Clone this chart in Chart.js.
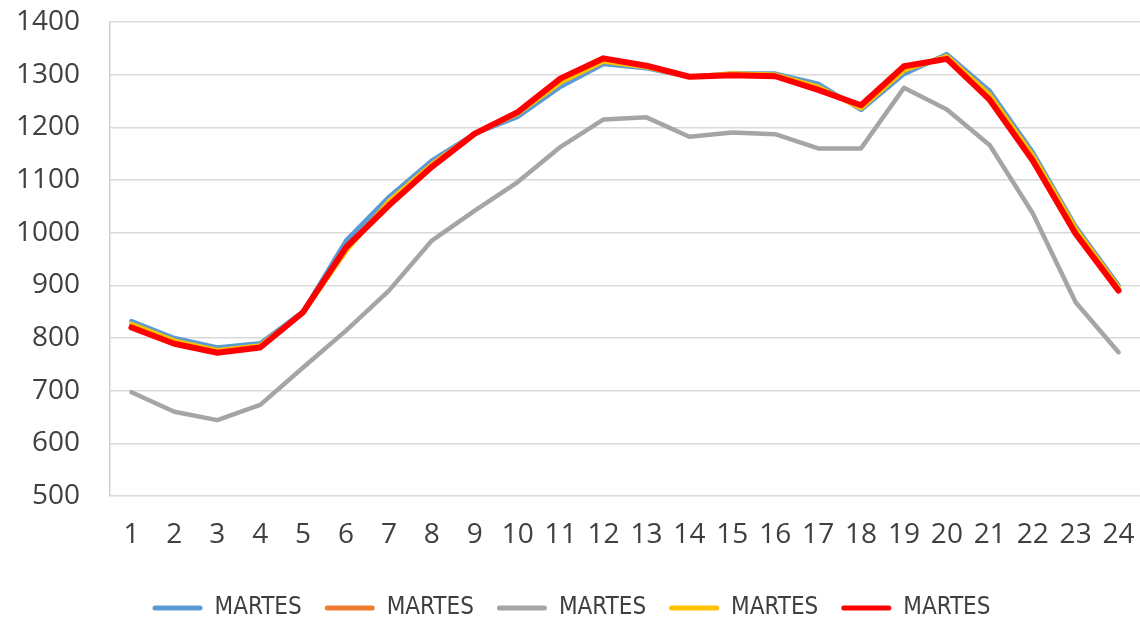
<!DOCTYPE html>
<html>
<head>
<meta charset="utf-8">
<script src="https://cdn.jsdelivr.net/npm/chart.js@4.4.1/dist/chart.umd.min.js"></script>
<style>
  html, body { margin: 0; padding: 0; background: #ffffff; overflow: hidden; }
  #wrap { width: 1140px; height: 620px; }
  canvas { display: block; }
</style>
</head>
<body>
<div id="wrap"><canvas id="c" width="1140" height="620"></canvas></div>
<script>
const hours = ['1','2','3','4','5','6','7','8','9','10','11','12','13','14','15','16','17','18','19','20','21','22','23','24'];
const seriesNames = ['MARTES','MARTES','MARTES','MARTES','MARTES'];
const blueValues   = [832,800,782,790,850,985,1068,1137,1188,1220,1277,1320,1312,1296,1302,1302,1283,1233,1301,1339,1269,1153,1012,900];
const orangeValues = [824,792,774,784,848,968,1056,1128,1188,1228,1290,1328,1316,1296,1300,1298,1274,1238,1312,1332,1256,1142,1003,893];
const grayValues   = [697,660,644,673,744,814,890,985,1042,1096,1163,1215,1219,1182,1190,1187,1160,1160,1275,1234,1166,1037,868,773];
const yellowValues = [827,795,777,786,848,965,1060,1130,1188,1226,1285,1325,1314,1296,1302,1300,1277,1236,1308,1335,1262,1147,1008,896];
const redValues    = [820,789,772,782,849,972,1052,1125,1188,1229,1293,1331,1317,1296,1299,1297,1271,1242,1316,1330,1252,1137,998,890];
const yTicks = [500,600,700,800,900,1000,1100,1200,1300,1400];

const colors = ['#5B9BD5','#ED7D31','#A5A5A5','#FFC000','#FF0000'];
const values = [blueValues, orangeValues, grayValues, yellowValues, redValues];
const widths = [4.5, 4.5, 4.5, 4.5, 6];

const datasets = values.map((v, i) => ({
  label: seriesNames[i],
  data: v,
  borderColor: colors[i],
  backgroundColor: colors[i],
  borderWidth: widths[i],
  pointRadius: 0,
  pointHoverRadius: 0,
  tension: 0,
  borderCapStyle: 'round',
  borderJoinStyle: 'round',
  fill: false,
  order: values.length - i
}));

new Chart(document.getElementById('c'), {
  type: 'line',
  data: { labels: hours, datasets },
  options: {
    responsive: false,
    animation: false,
    layout: { padding: { top: 22, right: -3, bottom: -10, left: 0 } },
    scales: {
      x: {
        offset: true,
        grid: { display: false, drawTicks: false },
        border: { display: false },
        ticks: {
          autoSkip: false, maxRotation: 0, minRotation: 0,
          padding: 0,
          color: '#404040',
          font: { family: '"Open Sans", "Noto Sans", sans-serif', size: 28, lineHeight: 2.8 }
        },
        afterFit: s => { s.height = 77; s.paddingLeft = 0; s.paddingRight = 0; }
      },
      y: {
        min: 500, max: 1400,
        afterBuildTicks: s => { s.ticks = yTicks.map(v => ({ value: v })); },
        grid: { color: '#d9d9d9', lineWidth: 1.5, drawTicks: false },
        border: { display: true, color: '#d0d0d0', width: 1.5 },
        ticks: {
          padding: 30,
          color: '#404040',
          font: { family: '"Open Sans", "Noto Sans", sans-serif', size: 28 },
          callback: v => String(v)
        },
        afterFit: s => { s.width = 110; s.paddingTop = 0; s.paddingBottom = 0; }
      }
    },
    plugins: {
      tooltip: { enabled: false },
      legend: {
        position: 'bottom',
        labels: {
          boxWidth: 50,
          boxHeight: 5,
          padding: 23,
          useBorderRadius: true,
          borderRadius: 2.5,
          color: '#404040',
          font: { family: '"Liberation Sans Narrow", "Arial Narrow", "DejaVu Sans Condensed", sans-serif', size: 24 },
          generateLabels: chart => {
            const items = Chart.defaults.plugins.legend.labels.generateLabels(chart);
            items.forEach(it => { it.lineWidth = 0; it.fillStyle = it.strokeStyle; it.borderRadius = 2.5; });
            items.sort((a, b) => a.datasetIndex - b.datasetIndex);
            return items;
          }
        }
      }
    }
  }
});
</script>
</body>
</html>
